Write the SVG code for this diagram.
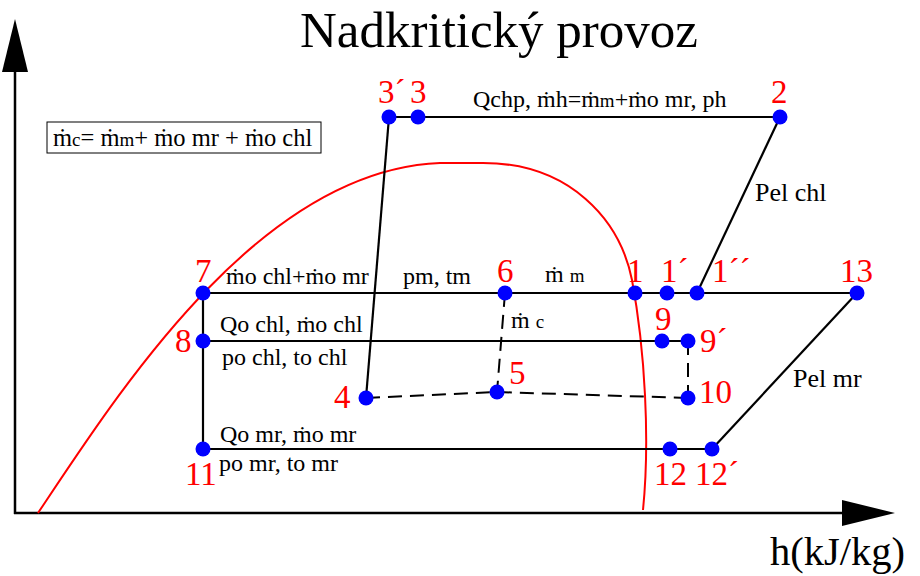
<svg xmlns="http://www.w3.org/2000/svg" width="920" height="576" viewBox="0 0 920 576">
<style>
.t{font-family:"Liberation Serif","Times New Roman",serif;fill:#000}
.lb{font-size:24px}
.pel{font-size:26px}
.n{font-family:"Liberation Serif","Times New Roman",serif;fill:#ff0000;font-size:33px}
.ln{stroke:#000;stroke-width:2.2;fill:none}
.ds{stroke:#000;stroke-width:2;fill:none;stroke-dasharray:14,8}
.pt{fill:#0000ff}
</style>
<rect width="920" height="576" fill="#fff"/>
<text class="t" x="499" y="47" font-size="51" text-anchor="middle">Nadkritický provoz</text>
<g id="axes">
<line x1="15" y1="60" x2="15" y2="514" stroke="#000" stroke-width="2.5"/>
<polygon points="15,19 2,72 28,72" fill="#000"/>
<line x1="14" y1="513" x2="850" y2="513" stroke="#000" stroke-width="2.5"/>
<polygon points="895,513 842,500 842,526" fill="#000"/>
<text class="t" x="770" y="565" font-size="40.5">h(kJ/kg)</text>
</g>
<path id="curve" d="M38,513 C120,390 260,170 440,163 L483,163 C570,163 620,220 632,280 C645,350 650,440 643,510" fill="none" stroke="#ff0000" stroke-width="2"/>
<g id="connectors">
<line class="ln" x1="389" y1="117" x2="780" y2="117"/>
<line class="ln" x1="389" y1="117" x2="366" y2="398"/>
<line class="ln" x1="780" y1="117" x2="697" y2="293"/>
<line class="ln" x1="203" y1="293" x2="857" y2="293"/>
<line class="ln" x1="857" y1="293" x2="712" y2="449"/>
<line class="ln" x1="203" y1="341" x2="688" y2="341"/>
<line class="ln" x1="203" y1="449" x2="712" y2="449"/>
<line class="ln" x1="203" y1="293" x2="203" y2="449"/>
<line class="ds" x1="505" y1="293" x2="497" y2="392"/>
<polyline class="ds" points="366,398 497,392 688,398"/>
<line class="ds" x1="688" y1="341" x2="688" y2="398"/>
</g>
<g id="legend">
<rect x="47" y="122" width="274" height="31" fill="#fff" stroke="#000" stroke-width="1"/>
<text class="t" x="53" y="146" font-size="24.5">ṁ<tspan font-size="19">c</tspan>= ṁ<tspan font-size="19">m</tspan>+ ṁo mr + ṁo chl</text>
</g>
<g id="labels">
<text class="t lb" x="473" y="107">Qchp, ṁh=ṁ<tspan font-size="19">m</tspan>+ṁo mr, ph</text>
<text class="t lb" x="226" y="284">ṁo chl+ṁo mr</text>
<text class="t lb" x="403" y="284">pm, tm</text>
<text class="t lb" x="545" y="282">ṁ <tspan font-size="19">m</tspan></text>
<text class="t lb" x="511" y="328">ṁ <tspan font-size="19">c</tspan></text>
<text class="t lb" x="220" y="332">Qo chl, ṁo chl</text>
<text class="t lb" x="222" y="365">po chl, to chl</text>
<text class="t lb" x="220" y="442">Qo mr, ṁo mr</text>
<text class="t lb" x="219" y="471">po mr, to mr</text>
<text class="t pel" x="755" y="201">Pel chl</text>
<text class="t pel" x="793" y="387">Pel mr</text>
</g>
<g id="n3p"><circle class="pt" cx="389" cy="117" r="7.5"/><text class="n" x="378" y="103">3´</text></g>
<g id="n3"><circle class="pt" cx="418" cy="117" r="7.5"/><text class="n" x="410" y="103">3</text></g>
<g id="n2"><circle class="pt" cx="780" cy="117" r="7.5"/><text class="n" x="771" y="103">2</text></g>
<g id="n4"><circle class="pt" cx="366" cy="398" r="7.5"/><text class="n" x="334" y="408">4</text></g>
<g id="n5"><circle class="pt" cx="497" cy="392" r="7.5"/><text class="n" x="509" y="384">5</text></g>
<g id="n6"><circle class="pt" cx="505" cy="293" r="7.5"/><text class="n" x="497" y="282">6</text></g>
<g id="n7"><circle class="pt" cx="203" cy="293" r="7.5"/><text class="n" x="195" y="282">7</text></g>
<g id="n1"><circle class="pt" cx="635" cy="293" r="7.5"/><text class="n" x="627" y="282">1</text></g>
<g id="n1p"><circle class="pt" cx="667" cy="293" r="7.5"/><text class="n" x="661" y="282">1´</text></g>
<g id="n1pp"><circle class="pt" cx="697" cy="293" r="7.5"/><text class="n" x="712" y="282">1´´</text></g>
<g id="n13"><circle class="pt" cx="857" cy="293" r="7.5"/><text class="n" x="840" y="282">13</text></g>
<g id="n8"><circle class="pt" cx="203" cy="341" r="7.5"/><text class="n" x="175" y="352">8</text></g>
<g id="n9"><circle class="pt" cx="662" cy="341" r="7.5"/><text class="n" x="655" y="330">9</text></g>
<g id="n9p"><circle class="pt" cx="688" cy="341" r="7.5"/><text class="n" x="700" y="352">9´</text></g>
<g id="n10"><circle class="pt" cx="688" cy="398" r="7.5"/><text class="n" x="699" y="403">10</text></g>
<g id="n11"><circle class="pt" cx="203" cy="449" r="7.5"/><text class="n" x="185" y="485">11</text></g>
<g id="n12"><circle class="pt" cx="670" cy="449" r="7.5"/><text class="n" x="654" y="485">12</text></g>
<g id="n12p"><circle class="pt" cx="712" cy="449" r="7.5"/><text class="n" x="695" y="485">12´</text></g>
</svg>
